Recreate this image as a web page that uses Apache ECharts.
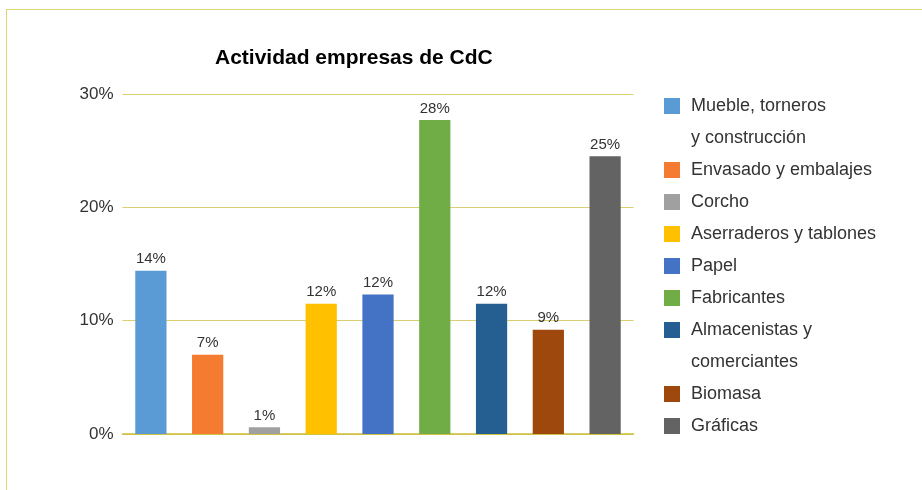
<!DOCTYPE html>
<html>
<head>
<meta charset="utf-8">
<script src="https://cdn.jsdelivr.net/npm/echarts@6/dist/echarts.min.js"></script>
<style>
html,body{margin:0;padding:0;background:#fff;}
#chart{width:922px;height:490px;}
</style>
</head>
<body>
<div id="chart"></div>
<script>
const categories = ['Mueble, torneros\ny construcción', 'Envasado y embalajes', 'Corcho', 'Aserraderos y tablones', 'Papel', 'Fabricantes', 'Almacenistas y\ncomerciantes', 'Biomasa', 'Gráficas'];
const values = [14.4, 7.0, 0.6, 11.5, 12.3, 27.7, 11.5, 9.2, 24.5];
const colors = ['#5B9BD5', '#F47B30', '#A0A0A0', '#FFC000', '#4472C4', '#70AD47', '#255E91', '#9E480E', '#636363'];
const yMin = 0, yMax = 30, yInterval = 10;

const font = 'Liberation Sans';
const chart = echarts.init(document.getElementById('chart'));

const series = categories.map((name, i) => ({
  type: 'bar',
  name: name,
  stack: 'all',
  barWidth: '55%',
  data: values.map((v, j) => (j === i ? v : '-')),
  itemStyle: { color: colors[i] },
  label: {
    show: true,
    position: 'top',
    distance: 4,
    fontSize: 15,
    fontFamily: font,
    color: '#333',
    formatter: p => Math.round(p.value) + '%'
  }
}));

function legendBlock(names, top) {
  return {
    orient: 'vertical',
    left: 664,
    top: top,
    padding: 0,
    itemGap: 0,
    itemWidth: 16,
    itemHeight: 16,
    icon: 'rect',
    selectedMode: false,
    // multi-line names get an empty first line so the swatch sits on the first text line
    formatter: n => (n.indexOf('\n') >= 0 ? '\n' + n : n),
    textStyle: { fontFamily: font, fontSize: 18, color: '#333', lineHeight: 32, padding: [0, 0, 0, 6] },
    data: names
  };
}

chart.setOption({
  animation: false,
  title: {
    text: 'Actividad empresas de CdC',
    left: 210,
    top: 43,
    textStyle: { fontFamily: font, fontSize: 21, fontWeight: 'bold', color: '#000' }
  },
  grid: { left: 122.5, right: 288.5, top: 94, bottom: 56, containLabel: false },
  legend: [
    legendBlock(categories.slice(0, 6), 58),
    legendBlock(categories.slice(6), 282)
  ],
  xAxis: {
    type: 'category',
    data: categories,
    axisLabel: { show: false },
    axisTick: { show: false },
    axisLine: { lineStyle: { color: '#cbbd3a', width: 1.5 } }
  },
  yAxis: {
    type: 'value',
    min: yMin,
    max: yMax,
    interval: yInterval,
    axisLine: { show: false },
    axisTick: { show: false },
    splitLine: { lineStyle: { color: '#d8d070', width: 1.2 } },
    axisLabel: { fontFamily: font, fontSize: 17, color: '#333', margin: 9, formatter: '{value}%' }
  },
  graphic: [
    { type: 'line', shape: { x1: 6, y1: 9.5, x2: 922, y2: 9.5 }, style: { stroke: '#dcd67a', lineWidth: 1 } },
    { type: 'line', shape: { x1: 6.5, y1: 9, x2: 6.5, y2: 490 }, style: { stroke: '#dcd67a', lineWidth: 1 } }
  ],
  series: series
});
</script>
</body>
</html>
